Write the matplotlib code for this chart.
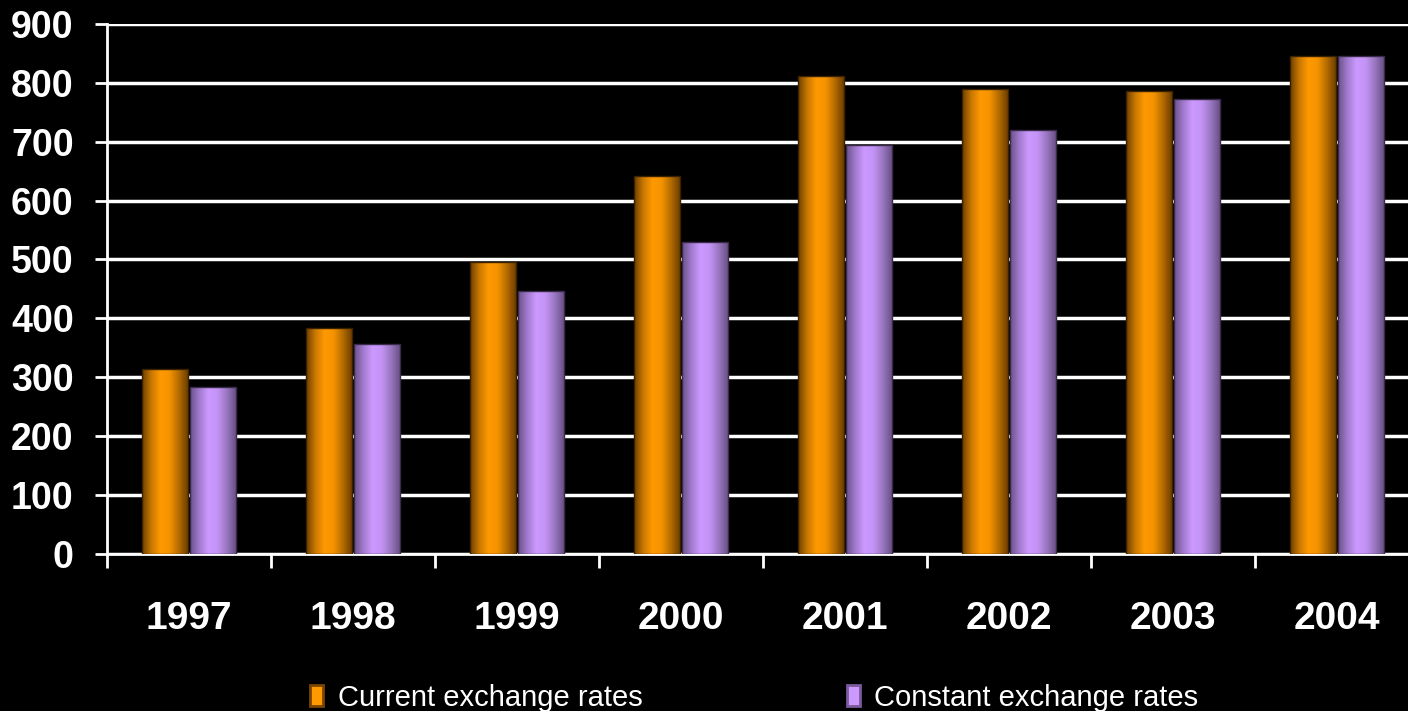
import numpy as np
import matplotlib.pyplot as plt
from matplotlib.colors import LinearSegmentedColormap
from matplotlib.patches import Patch

plt.rcParams['font.family'] = ['Liberation Sans', 'DejaVu Sans']

# Datos
years = ['1997', '1998', '1999', '2000', '2001', '2002', '2003', '2004']
current_rates = [313, 383, 495, 641, 811, 789, 786, 845]
constant_rates = [283, 356, 447, 529, 694, 720, 772, 845]

# Degradados horizontales tipo cilindro
orange_cmap = LinearSegmentedColormap.from_list(
    'orange_bar', ['#6e3e00', '#c87800', '#ff9900', '#f59300', '#b56d00', '#6e3e00'])
purple_cmap = LinearSegmentedColormap.from_list(
    'purple_bar', ['#6a5088', '#a07acc', '#cc99ff', '#c493f5', '#9a78c0', '#6a5088'])
grad = np.linspace(0, 1, 256).reshape(1, -1)

fig = plt.figure(figsize=(14.08, 7.11), dpi=100, facecolor='black')
ax = fig.add_axes([0.076, 0.2215, 0.932, 0.7447], facecolor='black')

x = np.arange(len(years))
w = 0.28
gap = 0.006
bars_cur = ax.bar(x - w / 2 - gap, current_rates, w, color='none', edgecolor='#3a2200', lw=1, zorder=4)
bars_con = ax.bar(x + w / 2 + gap, constant_rates, w, color='none', edgecolor='#3a2a4a', lw=1, zorder=4)

# Rellenar cada barra con su degradado
for bars, cmap in [(bars_cur, orange_cmap), (bars_con, purple_cmap)]:
    for b in bars:
        x0, y0 = b.get_x(), b.get_y()
        ax.imshow(grad, cmap=cmap, aspect='auto', interpolation='bicubic',
                  extent=[x0, x0 + b.get_width(), y0, y0 + b.get_height()], zorder=3)

ax.set_xlim(-0.5, len(years) - 0.5)
ax.set_ylim(0, 900)
ax.set_yticks(range(0, 901, 100))
ax.yaxis.grid(True, color='white', lw=2.5)
ax.set_axisbelow(True)

ax.set_xticks(x)
ax.set_xticklabels(years)
ax.set_xticks(np.arange(-0.5, len(years) - 0.4, 1), minor=True)

for s in ['top', 'right']:
    ax.spines[s].set_visible(False)
for s in ['left', 'bottom']:
    ax.spines[s].set_color('white')
    ax.spines[s].set_linewidth(2)

ax.tick_params(axis='y', colors='white', length=9, width=2, pad=15,
               labelsize=27)
ax.tick_params(axis='x', which='major', length=0, pad=34, colors='white', labelsize=28)
ax.tick_params(axis='x', which='minor', length=10, width=2, colors='white')
for lab in ax.get_xticklabels() + ax.get_yticklabels():
    lab.set_fontweight('bold')

handles = [Patch(facecolor='#ff9900', edgecolor='#7a4400', lw=2, label='Current exchange rates'),
           Patch(facecolor='#cc99ff', edgecolor='#7a5a9a', lw=2, label='Constant exchange rates')]
leg = fig.legend(handles=handles, loc='lower left', bbox_to_anchor=(0.2015, -0.038), ncol=2,
                 frameon=False, fontsize=21, handlelength=0.45, handleheight=0.75,
                 handletextpad=0.5, columnspacing=7.0, labelcolor='white')

plt.savefig('out.png', dpi=100, facecolor='black')
